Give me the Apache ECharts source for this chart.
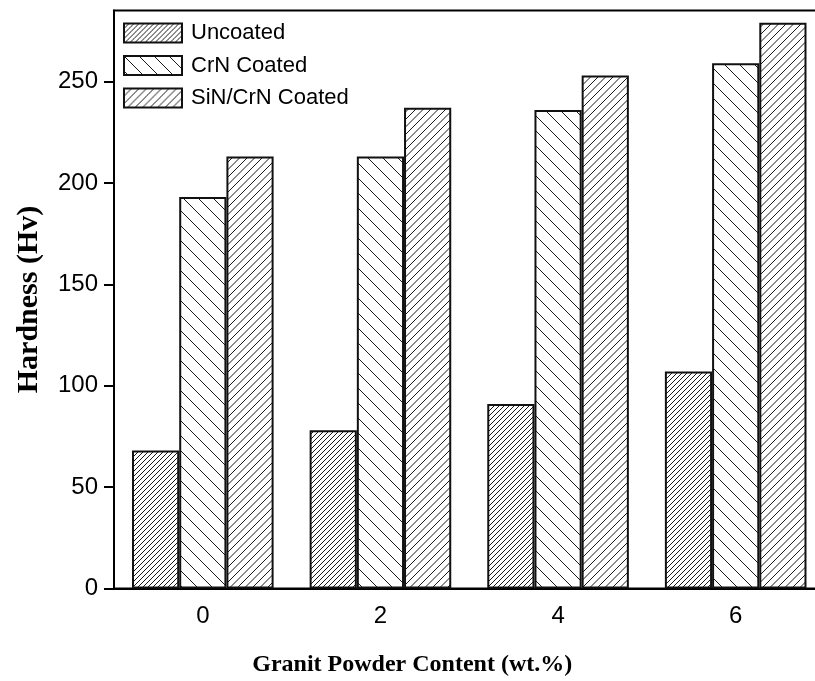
<!DOCTYPE html>
<html>
<head>
<meta charset="utf-8">
<script src="https://cdn.jsdelivr.net/npm/echarts@6/dist/echarts.min.js"></script>
<style>
  html, body { margin: 0; padding: 0; background: #fff; }
  #chart { width: 815px; height: 681px; }
</style>
</head>
<body>
<div id="chart"></div>
<script>
// Granite powder content (wt.%) on the category axis
const categories = ['0', '2', '4', '6'];
// Hardness values (Hv) for each surface condition
const uncoated = [68, 78, 91, 107];
const crnCoated = [193, 213, 236, 259];
const sinCrnCoated = [213, 237, 253, 279];
const seriesNames = ['Uncoated', 'CrN Coated', 'SiN/CrN Coated'];
const yTicks = [0, 50, 100, 150, 200, 250];

// Build a repeating diagonal hatch tile. dir = 1 draws "/" lines, -1 draws "\" lines.
function hatch(spacing, dir) {
  const n = Math.max(1, Math.round(30 / spacing));
  const size = spacing * n;
  const c = document.createElement('canvas');
  c.width = size;
  c.height = size;
  const ctx = c.getContext('2d');
  ctx.fillStyle = '#ffffff';
  ctx.fillRect(0, 0, size, size);
  ctx.strokeStyle = '#1a1a1a';
  ctx.lineWidth = 1;
  ctx.beginPath();
  for (let k = -n; k <= 2 * n; k++) {
    const v = k * spacing;
    if (dir > 0) {
      ctx.moveTo(v + size + 2, -size - 2);
      ctx.lineTo(v - size - 2, size + 2);
    } else {
      ctx.moveTo(v - size - 2, -size - 2);
      ctx.lineTo(v + size + 2, size + 2);
    }
  }
  ctx.stroke();
  return { image: c, repeat: 'repeat' };
}

const patterns = [hatch(5, 1), hatch(15, -1), hatch(7.5, 1)];
const values = [uncoated, crnCoated, sinCrnCoated];

const chart = echarts.init(document.getElementById('chart'), null, { renderer: 'canvas' });

const axisFont = 'Liberation Sans, Arial, sans-serif';
const titleFont = 'Liberation Serif, Times New Roman, serif';

chart.setOption({
  animation: false,
  backgroundColor: '#ffffff',
  grid: {
    left: 114,
    top: 10.5,
    right: -9.5,
    bottom: 92.5,
    outerBoundsMode: 'none',
    containLabel: false,
    show: true,
    borderColor: '#000',
    borderWidth: 2,
    backgroundColor: 'transparent'
  },
  legend: {
    orient: 'vertical',
    left: 123,
    top: 22,
    padding: 0,
    itemWidth: 58,
    itemHeight: 19,
    itemGap: 10.5,
    icon: 'rect',
    textStyle: {
      fontFamily: axisFont,
      fontSize: 22,
      color: '#000',
      padding: [0, 0, 0, 4]
    },
    data: seriesNames
  },
  xAxis: {
    type: 'category',
    data: categories,
    name: 'Granit Powder Content (wt.%)',
    nameLocation: 'middle',
    nameGap: 64,
    nameTextStyle: {
      fontFamily: titleFont,
      fontWeight: 'bold',
      fontSize: 24,
      color: '#000',
      padding: [0, 114, 0, 0]
    },
    axisLine: { lineStyle: { color: '#000', width: 2 } },
    axisTick: { alignWithLabel: true, length: 10, lineStyle: { color: '#000', width: 2 } },
    axisLabel: {
      margin: 16,
      fontFamily: axisFont,
      fontSize: 24,
      color: '#000'
    }
  },
  yAxis: {
    type: 'value',
    min: 0,
    max: 285,
    interval: 50,
    name: 'Hardness (Hv)',
    nameLocation: 'middle',
    nameGap: 70,
    nameTextStyle: {
      fontFamily: titleFont,
      fontWeight: 'bold',
      fontSize: 30,
      color: '#000'
    },
    splitLine: { show: false },
    axisLine: { show: true, lineStyle: { color: '#000', width: 2 } },
    axisTick: {
      show: true,
      length: 10,
      customValues: yTicks,
      lineStyle: { color: '#000', width: 2 }
    },
    axisLabel: {
      margin: 16,
      customValues: yTicks,
      fontFamily: axisFont,
      fontSize: 24,
      color: '#000'
    }
  },
  series: seriesNames.map((name, i) => ({
    name: name,
    type: 'bar',
    data: values[i],
    barWidth: 47.2,
    barGap: '0%',
    itemStyle: {
      color: patterns[i],
      borderColor: '#111',
      borderWidth: 2
    },
    emphasis: { disabled: true }
  }))
});
</script>
</body>
</html>
